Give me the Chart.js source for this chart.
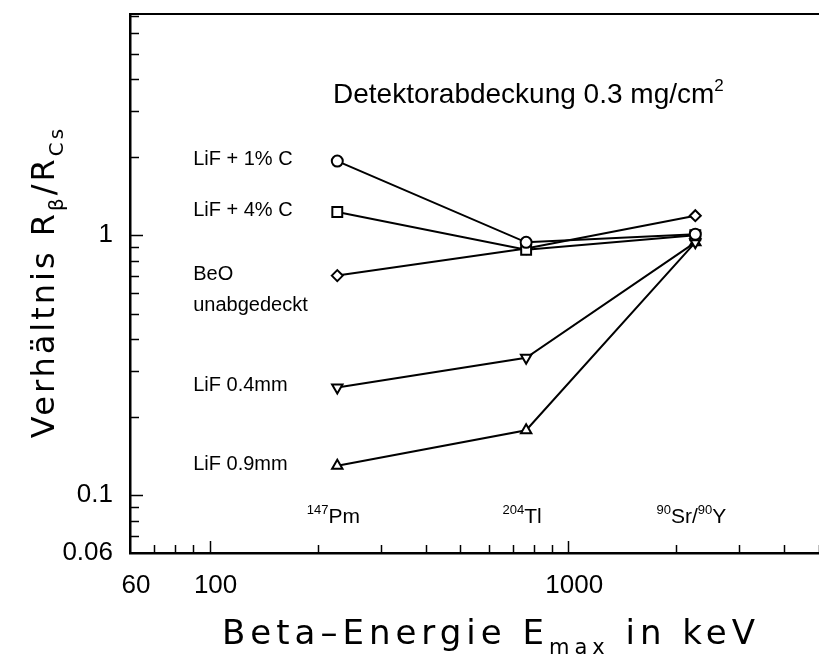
<!DOCTYPE html>
<html>
<head>
<meta charset="utf-8">
<script src="https://cdn.jsdelivr.net/npm/chart.js@4.4.1/dist/chart.umd.min.js"></script>
<style>
  html, body { margin: 0; padding: 0; background: #fff; }
  #wrap { width: 819px; height: 655px; }
</style>
</head>
<body>
<div id="wrap"><canvas id="c" width="819" height="655"></canvas></div>
<script>
// Beta max energies (keV) of the three sources
const energies = [227, 763, 2260];
const isotopeLabels = [
  [{ t: "147", m: "sup" }, { t: "Pm" }],
  [{ t: "204", m: "sup" }, { t: "Tl" }],
  [{ t: "90", m: "sup" }, { t: "Sr/" }, { t: "90", m: "sup" }, { t: "Y" }],
];

// ratio R_beta / R_Cs per detector
const lif1C = [1.93, 0.94, 1.01];
const lif4C = [1.23, 0.88, 1.0];
const beo = [0.70, 0.89, 1.19];
const lif04 = [0.26, 0.338, 0.94];
const lif09 = [0.13, 0.178, 0.94];

const seriesNames = [["LiF + 1% C"], ["LiF + 4% C"], ["BeO", "unabgedeckt"], ["LiF 0.4mm"], ["LiF 0.9mm"]];

const xTicks = [60, 70, 80, 90, 100, 200, 300, 400, 500, 600, 700, 800, 900, 1000, 2000, 3000, 4000, 5000];
const xTickLabels = ["60", "100", "1000"];
const yTicks = [0.06, 0.07, 0.08, 0.09, 0.1, 0.2, 0.3, 0.4, 0.5, 0.6, 0.7, 0.8, 0.9, 1, 2, 3, 4, 5, 6, 7];
const yTickLabels = ["0.06", "0.1", "1"];

const LABEL_FONT = "'Liberation Sans', Arial, sans-serif";
const TITLE_FONT = "'DejaVu Sans', sans-serif";

function pts(vals) {
  return energies.map((e, i) => ({ x: e, y: vals[i] }));
}

function ds(vals, style, radius, rotation) {
  return {
    data: pts(vals),
    borderColor: "#000",
    borderWidth: 2,
    pointStyle: style,
    pointRadius: radius,
    pointRotation: rotation || 0,
    pointBorderWidth: 2,
    pointBorderColor: "#000",
    pointBackgroundColor: "#fff",
    tension: 0,
  };
}

// text with super/subscripts, left aligned at x, baseline y
function richWidth(ctx, segs, size, family) {
  let w = 0;
  for (const s of segs) {
    ctx.font = `${s.m ? Math.round(size * 0.62) : size}px ${family}`;
    w += ctx.measureText(s.t).width;
  }
  return w;
}
function drawRich(ctx, segs, x, y, size, family) {
  let cx = x;
  for (const s of segs) {
    const fs = s.m ? Math.round(size * 0.62) : size;
    ctx.font = `${fs}px ${family}`;
    let dy = 0;
    if (s.m === "sup") dy = -size * 0.42;
    if (s.m === "sub") dy = size * 0.28;
    ctx.fillText(s.t, cx, y + dy);
    cx += ctx.measureText(s.t).width;
  }
}

const decor = {
  id: "decor",
  afterDraw(chart) {
    const { ctx, chartArea } = chart;
    const xs = chart.scales.x;
    const ys = chart.scales.y;
    ctx.save();
    ctx.strokeStyle = "#000";
    ctx.fillStyle = "#000";

    // top frame line
    ctx.lineWidth = 2;
    ctx.beginPath();
    ctx.moveTo(chartArea.left, chartArea.top);
    ctx.lineTo(chart.width, chartArea.top);
    ctx.stroke();

    // inward tick marks
    ctx.lineWidth = 1.5;
    for (const v of xTicks) {
      const px = Math.round(xs.getPixelForValue(v)) + 0.5;
      if (px <= chartArea.left + 2) continue;
      const len = v === 100 || v === 1000 ? 12 : 8;
      ctx.beginPath();
      ctx.moveTo(px, chartArea.bottom);
      ctx.lineTo(px, chartArea.bottom - len);
      ctx.stroke();
    }
    for (const v of yTicks) {
      const py = Math.round(ys.getPixelForValue(v)) + 0.5;
      if (py >= chartArea.bottom - 2) continue;
      const len = v === 0.1 || v === 1 ? 13 : 9;
      ctx.beginPath();
      ctx.moveTo(chartArea.left, py);
      ctx.lineTo(chartArea.left + len, py);
      ctx.stroke();
    }

    ctx.textBaseline = "alphabetic";
    ctx.textAlign = "left";

    // series labels next to the first points
    const lx = xs.getPixelForValue(90);
    [lif1C, lif4C, beo, lif04, lif09].forEach((vals, i) => {
      const py = ys.getPixelForValue(vals[0]);
      ctx.font = `20px ${LABEL_FONT}`;
      seriesNames[i].forEach((line, j) => {
        ctx.fillText(line, lx, py + 4 + j * 31);
      });
    });

    // isotope labels
    energies.forEach((e, i) => {
      const w = richWidth(ctx, isotopeLabels[i], 21, LABEL_FONT);
      const px = xs.getPixelForValue(e) - 4;
      drawRich(ctx, isotopeLabels[i], px - w / 2, 523, 21, LABEL_FONT);
    });

    // annotation
    drawRich(ctx, [{ t: "Detektorabdeckung 0.3 mg/cm" }, { t: "2", m: "sup" }], 333, 103, 28, LABEL_FONT);

    // axis titles
    ctx.letterSpacing = "5px";
    const xt = [{ t: "Beta\u2013Energie E" }, { t: "max", m: "sub" }, { t: " in keV" }];
    const xw = richWidth(ctx, xt, 34, TITLE_FONT);
    drawRich(ctx, xt, 491 - xw / 2, 644, 34, TITLE_FONT);

    ctx.letterSpacing = "3px";
    const yt = [{ t: "Verh\u00e4ltnis R" }, { t: "\u03b2", m: "sub" }, { t: "/R" }, { t: "Cs", m: "sub" }];
    const yw = richWidth(ctx, yt, 32, TITLE_FONT);
    ctx.translate(54, 282);
    ctx.rotate(-Math.PI / 2);
    drawRich(ctx, yt, -yw / 2, 0, 32, TITLE_FONT);
    ctx.restore();
  },
};

new Chart(document.getElementById("c"), {
  type: "line",
  data: {
    datasets: [
      ds(lif1C, "circle", 5.5),
      ds(lif4C, "rect", 7),
      ds(beo, "rectRot", 5.5),
      ds(lif04, "triangle", 6, 180),
      ds(lif09, "triangle", 6),
    ],
  },
  options: {
    responsive: false,
    animation: false,
    devicePixelRatio: 1,
    layout: { autoPadding: false, padding: { top: 14, right: 0, left: 0, bottom: 0 } },
    plugins: { legend: { display: false }, tooltip: { enabled: false } },
    scales: {
      x: {
        type: "logarithmic",
        min: 60,
        max: 5000,
        afterFit: (s) => {
          s.height = 102;
          s.paddingLeft = 0;
          s.paddingRight = 0;
        },
        afterBuildTicks: (s) => { s.ticks = xTicks.map((v) => ({ value: v })); },
        grid: { display: true, drawOnChartArea: false, drawTicks: false },
        border: { display: true, color: "#000", width: 2.5 },
        ticks: {
          autoSkip: false,
          maxRotation: 0,
          labelOffset: 6,
          padding: 17,
          color: "#000",
          font: { family: LABEL_FONT, size: 26 },
          callback: (v) => (xTickLabels.includes(String(v)) ? String(v) : ""),
        },
      },
      y: {
        type: "logarithmic",
        min: 0.06,
        max: 7.1,
        afterFit: (s) => {
          s.width = 130;
          s.paddingTop = 0;
          s.paddingBottom = 0;
        },
        afterBuildTicks: (s) => { s.ticks = yTicks.map((v) => ({ value: v })); },
        grid: { display: true, drawOnChartArea: false, drawTicks: false },
        border: { display: true, color: "#000", width: 2.5 },
        ticks: {
          autoSkip: false,
          padding: 17,
          color: "#000",
          font: { family: LABEL_FONT, size: 26 },
          callback: (v) => (yTickLabels.includes(String(v)) ? String(v) : ""),
        },
      },
    },
  },
  plugins: [decor],
});
</script>
</body>
</html>
